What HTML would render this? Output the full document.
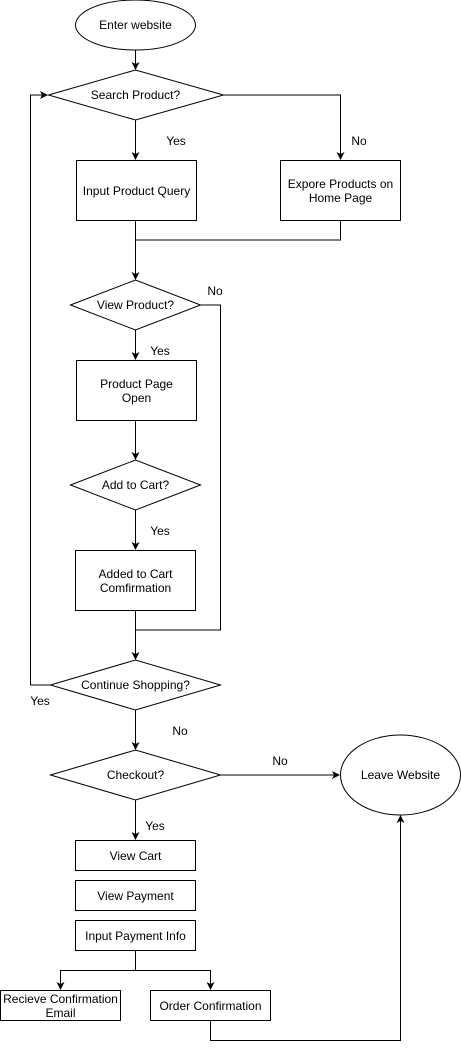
<!DOCTYPE html>
<html><head><meta charset="utf-8"><style>
html,body{margin:0;padding:0;background:#fff;}
svg{display:block;}
text{font-family:"Liberation Sans",Arial,sans-serif;font-size:12px;fill:#000;}
</style></head><body>
<svg width="461" height="1049" viewBox="0 0 461 1049" xmlns="http://www.w3.org/2000/svg">
<defs><marker id="a" markerWidth="8" markerHeight="8" refX="7" refY="4" orient="auto" markerUnits="userSpaceOnUse"><path d="M0,0 L8,4 L0,8 L2,4 Z" fill="#000"/></marker></defs>
<g fill="#fff" stroke="#000" stroke-width="1">
<ellipse cx="135.5" cy="25" rx="60" ry="25"/>
<polygon points="48.5,95 135.5,70 223.5,95 135.5,120"/>
<rect x="76.5" y="160.5" width="120" height="60"/>
<rect x="280.5" y="160.5" width="120" height="60"/>
<polygon points="70.5,305 135.5,280 200.5,305 135.5,330"/>
<rect x="76.5" y="360.5" width="120" height="60"/>
<polygon points="70.5,485 135.5,460 200.5,485 135.5,510"/>
<rect x="75.5" y="550.5" width="120" height="60"/>
<polygon points="50.5,685 135.5,660 220.5,685 135.5,710"/>
<polygon points="50.5,775 135.5,750 220.5,775 135.5,800"/>
<ellipse cx="400.5" cy="775" rx="60" ry="40"/>
<rect x="75.5" y="840.5" width="120" height="30"/>
<rect x="75.5" y="880.5" width="120" height="30"/>
<rect x="75.5" y="920.5" width="120" height="30"/>
<rect x="0.5" y="990.5" width="120" height="30"/>
<rect x="150.5" y="990.5" width="120" height="30"/>
</g>
<g fill="none" stroke="#000" stroke-width="1">
<path d="M135.5,50 V69" marker-end="url(#a)"/>
<path d="M135.5,120 V159" marker-end="url(#a)"/>
<path d="M223.5,95 H340.5 V159" marker-end="url(#a)"/>
<path d="M135.5,220 V240"/>
<path d="M340.5,220 V240 H135.5 V279" marker-end="url(#a)"/>
<path d="M135.5,330 V359" marker-end="url(#a)"/>
<path d="M200.5,305 H220.5 V630 H135.5"/>
<path d="M135.5,420 V459" marker-end="url(#a)"/>
<path d="M135.5,510 V549" marker-end="url(#a)"/>
<path d="M135.5,610 V659" marker-end="url(#a)"/>
<path d="M50.5,685 H30.5 V95 H47" marker-end="url(#a)"/>
<path d="M135.5,710 V749" marker-end="url(#a)"/>
<path d="M220.5,775 H339" marker-end="url(#a)"/>
<path d="M135.5,800 V839" marker-end="url(#a)"/>
<path d="M135.5,950 V970.5 M60.5,970.5 H210.5"/>
<path d="M60.5,970 V989" marker-end="url(#a)"/>
<path d="M210.5,970 V989" marker-end="url(#a)"/>
<path d="M210.5,1020 V1040.5 H400.5 V816" marker-end="url(#a)"/>
</g>
<g text-anchor="middle">
<text x="135.5" y="29">Enter website</text>
<text x="135.5" y="99">Search Product?</text>
<text x="136.5" y="195">Input Product Query</text>
<text x="340.5" y="188">Expore Products on</text>
<text x="340.5" y="202">Home Page</text>
<text x="135.5" y="309">View Product?</text>
<text x="136.5" y="388">Product Page</text>
<text x="136.5" y="402">Open</text>
<text x="135.5" y="489">Add to Cart?</text>
<text x="135.5" y="578">Added to Cart</text>
<text x="135.5" y="592">Comfirmation</text>
<text x="135.5" y="689">Continue Shopping?</text>
<text x="135.5" y="779">Checkout?</text>
<text x="400.5" y="779">Leave Website</text>
<text x="135.5" y="860">View Cart</text>
<text x="135.5" y="900">View Payment</text>
<text x="135.5" y="940">Input Payment Info</text>
<text x="60.5" y="1003">Recieve Confirmation</text>
<text x="60.5" y="1017">Email</text>
<text x="210.5" y="1010">Order Confirmation</text>
<text x="176" y="145">Yes</text>
<text x="359" y="145">No</text>
<text x="215" y="295">No</text>
<text x="160" y="355">Yes</text>
<text x="160" y="535">Yes</text>
<text x="40" y="705">Yes</text>
<text x="180" y="735">No</text>
<text x="280" y="765">No</text>
<text x="155" y="830">Yes</text>
</g>
</svg>
</body></html>
